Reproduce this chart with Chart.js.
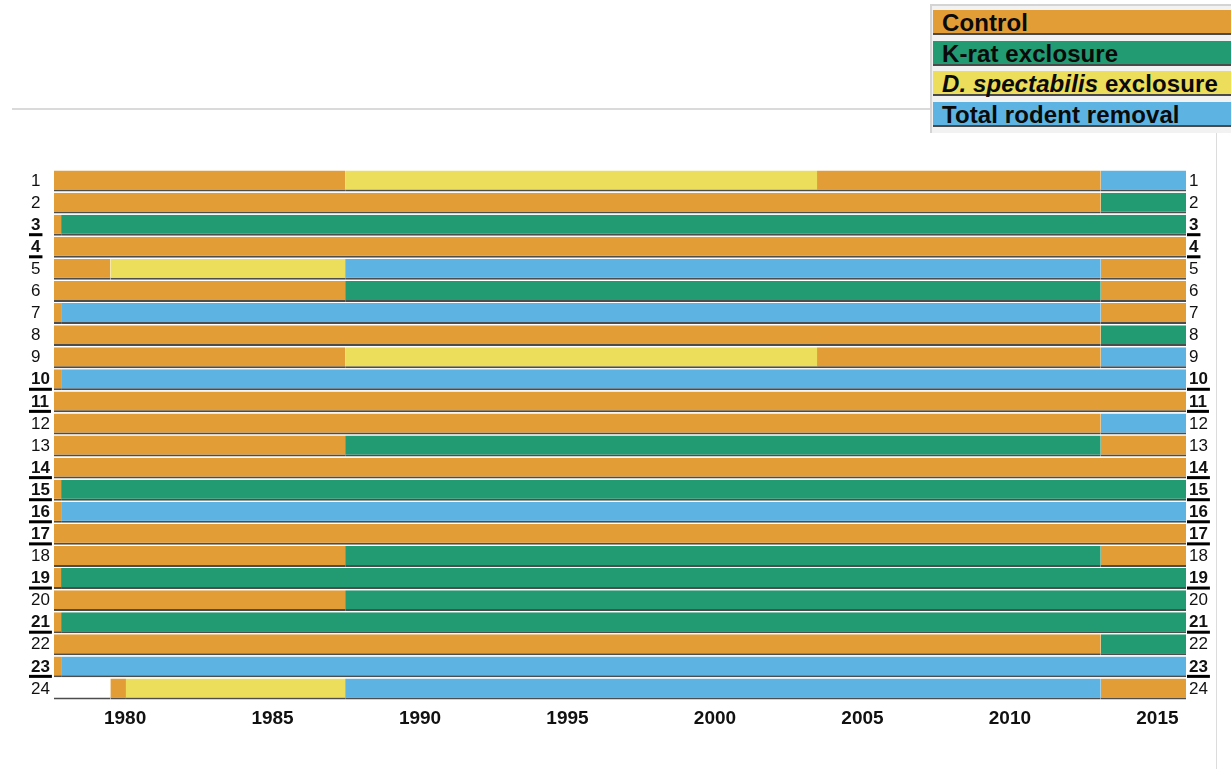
<!DOCTYPE html>
<html>
<head>
<meta charset="utf-8">
<script src="https://cdn.jsdelivr.net/npm/chart.js@4/dist/chart.umd.min.js"></script>
<style>
  html, body { margin: 0; padding: 0; background: #fff; }
  #wrap { position: relative; width: 1231px; height: 769px; overflow: hidden; font-family: 'Liberation Sans', Arial, sans-serif; }
  #chart { position: absolute; left: 0; top: 0; }
  .hline { position: absolute; left: 12px; top: 108px; width: 920px; height: 2px; background: #dadada; }
  .vline { position: absolute; left: 1216px; top: 130px; width: 1px; height: 640px; background: #dcdcdc; }
  #legend { position: absolute; left: 930px; top: 4px; width: 320px; height: 127px; border-top: 2px solid #d4d4d4; border-left: 2px solid #d4d4d4; background: #f2f2f2; }
  .item { position: absolute; left: 1px; width: 330px; height: 23px; border-bottom: 2px solid #4a4a4a; font-weight: bold; font-size: 24px; line-height: 25px; color: #0a0a0a; padding-left: 9px; box-sizing: content-box; white-space: nowrap; letter-spacing: 0.1px; }
</style>
</head>
<body>
<div id="wrap">
  <canvas id="chart" width="1231" height="769"></canvas>
  <div class="hline"></div>
  <div class="vline"></div>
  <div id="legend"></div>
</div>
<script>
// ---- data ----
const plots = ['1','2','3','4','5','6','7','8','9','10','11','12','13','14','15','16','17','18','19','20','21','22','23','24'];
const boldPlots = ['3','4','10','11','14','15','16','17','19','21','23'];
// period boundaries (years)
const periodBreaks = [1977.59, 1977.83, 1979.5, 1980.03, 1987.46, 2003.46, 2013.08, 2015.97];
// treatment per period for each plot: C control, K k-rat excl., D D. spectabilis excl., T total removal, - none
const plotHistory = [
  'CCCCDCT', 'CCCCCCK', 'CKKKKKK', 'CCCCCCC', 'CCDDTTC', 'CCCCKKC',
  'CTTTTTC', 'CCCCCCK', 'CCCCDCT', 'CTTTTTT', 'CCCCCCC', 'CCCCCCT',
  'CCCCKKC', 'CCCCCCC', 'CKKKKKK', 'CTTTTTT', 'CCCCCCC', 'CCCCKKC',
  'CKKKKKK', 'CCCCKKK', 'CKKKKKK', 'CCCCCCK', 'CTTTTTT', '--CDTTC'
];
const tickYears = [1980, 1985, 1990, 1995, 2000, 2005, 2010, 2015];
const legendLabels = ['Control', 'K-rat exclosure', '<i>D. spectabilis</i> exclosure', 'Total rodent removal'];
const legendCodes = ['C', 'K', 'D', 'T'];
const colors = { C: '#E39D36', K: '#229B72', D: '#ECDD5B', T: '#5DB4E3', '-': '#ffffff' };

// ---- legend ----
const lg = document.getElementById('legend');
const legendTops = [4, 34.5, 65, 95.5];
legendLabels.forEach((t, i) => {
  const d = document.createElement('div');
  d.className = 'item';
  d.style.top = legendTops[i] + 'px';
  d.style.background = colors[legendCodes[i]];
  d.innerHTML = t;
  lg.appendChild(d);
});

// ---- merge consecutive equal periods into segments ----
const segments = plotHistory.map(h => {
  const segs = [];
  for (let p = 0; p < h.length; p++) {
    const last = segs[segs.length - 1];
    if (last && last.code === h[p]) last.end = periodBreaks[p + 1];
    else segs.push({ code: h[p], start: periodBreaks[p], end: periodBreaks[p + 1] });
  }
  return segs;
});
const maxSegs = Math.max(...segments.map(s => s.length));

// ---- chart ----
const FONT = "'Liberation Sans', Arial, sans-serif";
const datasets = [];
for (let k = 0; k < maxSegs; k++) {
  datasets.push({
    data: segments.map(s => s[k] ? [s[k].start, s[k].end] : null),
    backgroundColor: segments.map(s => s[k] ? colors[s[k].code] : 'rgba(0,0,0,0)'),
    borderColor: '#4d4d4d',
    borderWidth: { top: 0, left: 0, right: 0, bottom: 2 },
    borderSkipped: false,
    inflateAmount: 0,
    grouped: false,
    barPercentage: 0.95,
    categoryPercentage: 1.0
  });
}

const tickFont = (ctx) => ({ family: FONT, size: 17, weight: boldPlots.includes(plots[ctx.index]) ? 'bold' : 'normal' });

const underlinePlugin = {
  id: 'underline',
  afterDraw(chart) {
    const c = chart.ctx;
    c.save();
    c.fillStyle = '#000';
    ['y', 'yR'].forEach(id => {
      const s = chart.scales[id];
      plots.forEach((p, i) => {
        if (!boldPlots.includes(p)) return;
        c.font = 'bold 17px ' + FONT;
        const w = c.measureText(p).width;
        const y = s.getPixelForTick(i);
        const x = id === 'y' ? s.left : s.left + 3;
        c.fillRect(x - 2, y + 8, w + 4, 3);
      });
    });
    c.restore();
  }
};

new Chart(document.getElementById('chart'), {
  type: 'bar',
  data: { labels: plots, datasets },
  options: {
    indexAxis: 'y',
    responsive: false,
    animation: false,
    layout: { padding: { left: 31, top: 170, right: 0, bottom: 0 } },
    plugins: { legend: { display: false }, tooltip: { enabled: false } },
    scales: {
      x: {
        type: 'linear', position: 'bottom',
        min: periodBreaks[0], max: periodBreaks[periodBreaks.length - 1],
        grid: { display: false, drawTicks: false }, border: { display: false },
        afterBuildTicks: s => { s.ticks = tickYears.map(v => ({ value: v })); },
        afterFit: s => { s.height = 69; },
        ticks: { padding: 7, color: '#111', font: { family: FONT, size: 19, weight: 'bold' }, callback: v => String(v), maxRotation: 0, autoSkip: false }
      },
      y: {
        type: 'category', position: 'left', offset: true,
        grid: { display: false, drawTicks: false }, border: { display: false },
        afterFit: s => { s.width = 23; },
        ticks: { crossAlign: 'far', padding: 0, color: '#111', font: tickFont, autoSkip: false }
      },
      yR: {
        type: 'category', position: 'right', offset: true, labels: plots,
        grid: { display: false, drawTicks: false }, border: { display: false },
        afterFit: s => { s.width = 45; },
        ticks: { crossAlign: 'near', padding: 3, color: '#111', font: tickFont, autoSkip: false }
      }
    }
  },
  plugins: [underlinePlugin]
});
</script>
</body>
</html>
